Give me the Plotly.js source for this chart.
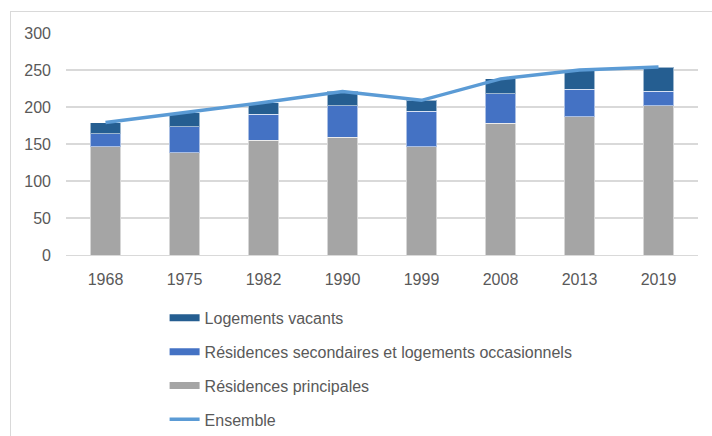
<!DOCTYPE html>
<html>
<head>
<meta charset="utf-8">
<script src="https://cdn.plot.ly/plotly-3.0.1.min.js"></script>
<style>
  html, body { margin: 0; padding: 0; background: #fff; }
  #frame { position: absolute; left: 10px; top: 11px; right: 0; bottom: 0; border-left: 1px solid #d9d9d9; border-top: 1px solid #d9d9d9; pointer-events: none; }
  #chart { width: 712px; height: 436px; }
</style>
</head>
<body>
<div id="chart"></div>
<div id="frame"></div>
<script>
const years = ["1968", "1975", "1982", "1990", "1999", "2008", "2013", "2019"];
const principales = [146, 138, 155, 159, 146, 178, 187, 202];
const secondaires = [18, 35, 35, 43, 48, 40, 37, 19];
const vacants = [15, 19, 16, 19, 15, 20, 26, 33];
const ensemble = [179, 192, 206, 221, 209, 238, 250, 254];

const names = {
  vac: "Logements vacants",
  sec: "Résidences secondaires et logements occasionnels",
  pri: "Résidences principales",
  ens: "Ensemble"
};
const colors = { pri: "#a5a5a5", sec: "#4472c4", vac: "#255e91", ens: "#5b9bd5" };
const barLine = { color: "rgba(255,255,255,0.55)", width: 1 };

const traces = [
  { type: "bar", x: years, y: principales, name: names.pri, marker: { color: colors.pri, line: barLine }, showlegend: false, legendgroup: "pri" },
  { type: "bar", x: years, y: secondaires, name: names.sec, marker: { color: colors.sec, line: barLine }, showlegend: false, legendgroup: "sec" },
  { type: "bar", x: years, y: vacants, name: names.vac, marker: { color: colors.vac, line: barLine }, showlegend: false, legendgroup: "vac" },
  { type: "scatter", mode: "lines", x: years, y: ensemble, name: names.ens, line: { color: colors.ens, width: 3.5 }, showlegend: false, legendgroup: "ens" },
  // legend entries (no data)
  { type: "scatter", mode: "lines", x: [null], y: [null], name: names.vac, line: { color: colors.vac, width: 7 }, legendgroup: "vac" },
  { type: "scatter", mode: "lines", x: [null], y: [null], name: names.sec, line: { color: colors.sec, width: 7 }, legendgroup: "sec" },
  { type: "scatter", mode: "lines", x: [null], y: [null], name: names.pri, line: { color: colors.pri, width: 7 }, legendgroup: "pri" },
  { type: "scatter", mode: "lines", x: [null], y: [null], name: names.ens, line: { color: colors.ens, width: 3.5 }, legendgroup: "ens" }
];

const layout = {
  width: 712, height: 436,
  margin: { l: 66, r: 14, t: 33, b: 181, pad: 0, autoexpand: false },
  barmode: "stack",
  bargap: 0.61,
  paper_bgcolor: "#fff",
  plot_bgcolor: "#fff",
  font: { family: "Liberation Sans, Arial, sans-serif", size: 16, color: "#595959" },
  showlegend: true,
  legend: {
    x: 0.156, xanchor: "left", y: -0.207, yanchor: "top",
    traceorder: "grouped", tracegroupgap: 10,
    font: { size: 16, color: "#595959" },
    bgcolor: "rgba(0,0,0,0)", itemclick: false, itemdoubleclick: false
  },
  xaxis: {
    type: "category", showgrid: false, zeroline: false,
    showline: true, linecolor: "#d9d9d9", linewidth: 1.3,
    ticks: "", ticklabelstandoff: 9,
    tickfont: { size: 16, color: "#595959" }, fixedrange: true
  },
  yaxis: {
    range: [0, 300], dtick: 50, tick0: 0,
    showgrid: true, gridcolor: "#d9d9d9", gridwidth: 1.3,
    zeroline: false, showline: false, ticks: "", ticklabelstandoff: 14,
    tickfont: { size: 16, color: "#595959" }, fixedrange: true
  }
};

Plotly.newPlot("chart", traces, layout, { displayModeBar: false, staticPlot: true });
</script>
</body>
</html>
